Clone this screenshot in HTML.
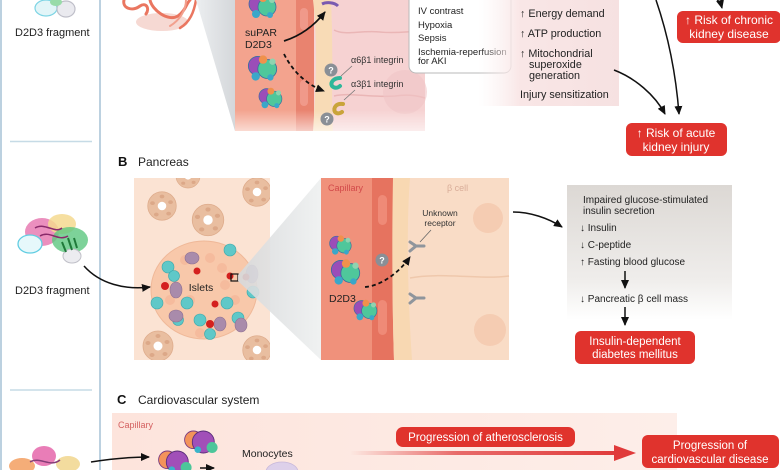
<!DOCTYPE html>
<html><head><meta charset="utf-8"><style>
html,body{margin:0;padding:0;background:#fff;}
svg{display:block;}
text{font-family:"Liberation Sans",Arial,sans-serif;}
</style></head><body>
<svg width="780" height="470" viewBox="0 0 780 470" xmlns="http://www.w3.org/2000/svg">
<defs>
  <marker id="ah" markerWidth="10" markerHeight="10" refX="8" refY="4" orient="auto" markerUnits="userSpaceOnUse">
    <path d="M0,0 L9,4 L0,8 z" fill="#111"/>
  </marker>
  <clipPath id="clipPan"><rect x="134" y="178" width="136" height="182"/></clipPath>
  <linearGradient id="funA" x1="0" y1="0" x2="1" y2="0">
    <stop offset="0" stop-color="#eceef0"/><stop offset="1" stop-color="#d4d7da"/>
  </linearGradient>
  <linearGradient id="funB" x1="0" y1="0" x2="1" y2="0">
    <stop offset="0" stop-color="#d6d8da"/><stop offset="1" stop-color="#eef0f0"/>
  </linearGradient>
  <linearGradient id="pinkA" x1="0" y1="0" x2="1" y2="0">
    <stop offset="0" stop-color="#fbf1f1" stop-opacity="0"/><stop offset="0.3" stop-color="#f9e6e6"/><stop offset="1" stop-color="#f6e1e1"/>
  </linearGradient>
  <linearGradient id="greyB" x1="0" y1="0" x2="0" y2="1">
    <stop offset="0" stop-color="#dcd8d4"/><stop offset="0.7" stop-color="#efedeb"/><stop offset="1" stop-color="#ffffff"/>
  </linearGradient>
  <linearGradient id="bandC" x1="0" y1="0" x2="1" y2="0">
    <stop offset="0" stop-color="#fde4dc"/><stop offset="1" stop-color="#fdeee9"/>
  </linearGradient>
  <linearGradient id="redArr" x1="0" y1="0" x2="1" y2="0">
    <stop offset="0" stop-color="#e04444" stop-opacity="0"/><stop offset="0.4" stop-color="#e24a4a" stop-opacity="0.8"/><stop offset="1" stop-color="#e03a3a"/>
  </linearGradient>
  <linearGradient id="fadeBot" x1="0" y1="0" x2="0" y2="1">
    <stop offset="0" stop-color="#fff" stop-opacity="0"/><stop offset="1" stop-color="#fff" stop-opacity="0.6"/>
  </linearGradient>
  <g id="prot">
    <circle cx="-4" cy="-2" r="9" fill="#9b4db8" stroke="#3b6fa0" stroke-width="0.8"/>
    <circle cx="5" cy="1" r="9" fill="#4fc79b" stroke="#3b6fa0" stroke-width="0.8"/>
    <circle cx="1" cy="-8" r="4" fill="#f0914c"/>
    <circle cx="-6" cy="8" r="4" fill="#3aa7c9"/>
    <circle cx="8" cy="9" r="3" fill="#3aa7c9"/>
    <circle cx="10" cy="-6" r="3" fill="#8fd3b0"/>
  </g>
  <g id="protC">
    <circle cx="-6" cy="-2" r="8" fill="#f3935a" stroke="#7a3a80" stroke-width="0.8"/>
    <circle cx="3" cy="0" r="10" fill="#a14fb8" stroke="#5a2e7a" stroke-width="0.8"/>
    <circle cx="11" cy="5" r="5" fill="#4cc69a"/>
    <circle cx="-2" cy="7" r="3" fill="#3ab4c9"/>
  </g>
  <g id="ros">
    <circle r="15" fill="#e9bea0" stroke="#deac8c" stroke-width="0.8"/>
    <g fill="#dca888">
      <ellipse cx="0" cy="-10" rx="2.5" ry="2"/><ellipse cx="9" cy="-4" rx="2.5" ry="2"/>
      <ellipse cx="7" cy="8" rx="2.5" ry="2"/><ellipse cx="-6" cy="9" rx="2.5" ry="2"/>
      <ellipse cx="-10" cy="-3" rx="2.5" ry="2"/>
    </g>
    <circle r="4.5" fill="#fff"/>
  </g>
</defs>

<!-- left column -->
<line x1="1" y1="0" x2="1" y2="470" stroke="#a6c2d6" stroke-width="1.5"/>
<line x1="100" y1="0" x2="100" y2="470" stroke="#a6c2d6" stroke-width="1.5"/>
<line x1="10" y1="141.5" x2="92" y2="141.5" stroke="#c6dbe6" stroke-width="1.5"/>
<line x1="10" y1="390" x2="92" y2="390" stroke="#c6dbe6" stroke-width="1.5"/>

<!-- top-left protein (cropped) -->
<g opacity="0.9">
  <ellipse cx="46" cy="8" rx="11" ry="8" fill="#dff4f8" stroke="#6fd0e2" stroke-width="1.2"/>
  <ellipse cx="66" cy="9" rx="9" ry="8" fill="#e8e8ee" stroke="#b9b9c4" stroke-width="1.2"/>
  <ellipse cx="56" cy="2" rx="6" ry="4" fill="#8fd8a0"/>
</g>
<text x="15" y="36" font-size="11" fill="#222">D2D3 fragment</text>

<!-- kidney tubules (cropped) -->
<g fill="none" stroke-linecap="round">
  <ellipse cx="162" cy="22" rx="26" ry="9" fill="#f4cfc8" stroke="none" opacity="0.8"/>
  <path d="M124,0 C122,8 132,12 140,6 C146,2 150,8 146,14" stroke="#ea7660" stroke-width="3"/>
  <path d="M150,0 C152,10 168,22 178,16 C186,10 186,4 190,0" stroke="#ea7660" stroke-width="3"/>
  <path d="M180,28 C190,22 194,12 196,0" stroke="#ea7660" stroke-width="2.5"/>
  <path d="M170,26 C180,20 186,10 186,0" stroke="#f2a08e" stroke-width="2"/>
</g>

<!-- funnel A -->
<polygon points="196,0 235,0 235,131" fill="url(#funA)"/>

<!-- panel A tissue -->
<rect x="235" y="0" width="190" height="131" fill="#f7d5d5"/>
<rect x="235" y="0" width="64" height="131" fill="#f3a38e"/>
<path d="M296,0 L314,0 L314,131 L296,131 Z" fill="#e9836f"/>
<rect x="300" y="8" width="8" height="22" rx="4" fill="#f0998a"/>
<rect x="300" y="80" width="8" height="26" rx="4" fill="#f0998a"/>
<path d="M313,0 C318,40 316,90 313,131 L333,131 C331,100 334,60 331,0 Z" fill="#f8dbb6"/>
<path d="M333,0 L425,0 L425,131 L333,131 C331,100 334,60 331,0 Z" fill="#f6d2d2"/>
<g fill="none" stroke="#eab6b6" stroke-width="1.5">
  <path d="M334,30 C345,36 360,30 380,32 C400,34 415,30 425,32"/>
  <path d="M334,96 C350,92 370,98 395,96 C410,94 418,96 425,98"/>
</g>
<circle cx="405" cy="92" r="22" fill="#f0c4c6" opacity="0.6"/>
<rect x="235" y="110" width="190" height="21" fill="url(#fadeBot)"/>

<!-- proteins A -->
<use href="#prot" transform="translate(262,6)"/>
<use href="#prot" transform="translate(262,68) scale(1.05)"/>
<use href="#prot" transform="translate(270,98) scale(0.85)"/>
<path d="M322,4 C326,2 334,2 338,6" stroke="#7a5ab0" stroke-width="3" fill="none"/>
<text x="245" y="36" font-size="10.5" fill="#222">suPAR</text>
<text x="245" y="48" font-size="10.5" fill="#222">D2D3</text>
<path d="M284,41 C300,36 314,26 325,12" stroke="#111" stroke-width="1.8" fill="none" marker-end="url(#ah)"/>
<path d="M284,54 C292,70 305,84 324,91" stroke="#111" stroke-width="1.8" stroke-dasharray="4,3" fill="none" marker-end="url(#ah)"/>
<circle cx="331" cy="70" r="6.5" fill="#8a8f96"/>
<text x="331" y="73.5" font-size="9" font-weight="bold" fill="#fff" text-anchor="middle">?</text>
<circle cx="327" cy="119" r="6.5" fill="#8a8f96"/>
<text x="327" y="122.5" font-size="9" font-weight="bold" fill="#fff" text-anchor="middle">?</text>
<path d="M340,78 C334,78 330,82 332,86 C336,90 340,86 340,86" stroke="#2fb79a" stroke-width="4" fill="none" stroke-linecap="round"/>
<path d="M343,104 C336,103 333,108 335,112 C338,115 342,112 342,112" stroke="#c9a43a" stroke-width="4" fill="none" stroke-linecap="round"/>
<line x1="341" y1="76" x2="352" y2="66" stroke="#777" stroke-width="0.8"/>
<line x1="344" y1="100" x2="355" y2="90" stroke="#777" stroke-width="0.8"/>
<text x="351" y="63" font-size="9" fill="#333">α6β1 integrin</text>
<text x="351" y="87" font-size="9" fill="#333">α3β1 integrin</text>

<!-- AKI causes box -->
<rect x="409" y="-10" width="102" height="83" rx="7" fill="#fff" stroke="#b9b9b9" stroke-width="1"/>
<g font-size="9.5" fill="#222">
  <text x="418" y="14">IV contrast</text>
  <text x="418" y="28">Hypoxia</text>
  <text x="418" y="41">Sepsis</text>
  <text x="418" y="55">Ischemia-reperfusion</text>
  <text x="418" y="64">for AKI</text>
</g>

<!-- pink metabolic box -->
<rect x="478" y="0" width="141" height="106" fill="url(#pinkA)"/>
<g font-size="10.8" fill="#222">
  <text x="520" y="17">↑ Energy demand</text>
  <text x="520" y="37">↑ ATP production</text>
  <text x="520" y="57">↑ Mitochondrial</text>
  <text x="529" y="68">superoxide</text>
  <text x="529" y="79">generation</text>
  <text x="520" y="98">Injury sensitization</text>
</g>

<!-- arrows A right -->
<path d="M614,70 C635,78 655,95 665,114" stroke="#111" stroke-width="1.5" fill="none" marker-end="url(#ah)"/>
<path d="M656,0 C668,35 676,75 679,114" stroke="#111" stroke-width="1.5" fill="none" marker-end="url(#ah)"/>
<path d="M716,-2 C719,2 721,4 722,8" stroke="#111" stroke-width="1.5" fill="none" marker-end="url(#ah)"/>

<!-- red boxes A -->
<rect x="677" y="11" width="104" height="32" rx="6" fill="#e0332d"/>
<text x="729" y="24" font-size="12" fill="#fff" text-anchor="middle">↑ Risk of chronic</text>
<text x="729" y="38" font-size="12" fill="#fff" text-anchor="middle">kidney disease</text>
<rect x="626" y="123" width="101" height="33" rx="6" fill="#e0332d"/>
<text x="676" y="137" font-size="12" fill="#fff" text-anchor="middle">↑ Risk of acute</text>
<text x="676" y="151" font-size="12" fill="#fff" text-anchor="middle">kidney injury</text>

<!-- ============ PANEL B ============ -->
<text x="118" y="166" font-size="13" font-weight="bold" fill="#111">B</text>
<text x="138" y="166" font-size="12" fill="#222">Pancreas</text>

<!-- left protein B -->
<g>
  <ellipse cx="42" cy="232" rx="17" ry="14" fill="#e46aa8" opacity="0.75"/>
  <ellipse cx="62" cy="224" rx="14" ry="10" fill="#f4d98f" opacity="0.85"/>
  <ellipse cx="70" cy="240" rx="18" ry="13" fill="#5dc77f" opacity="0.8"/>
  <ellipse cx="30" cy="244" rx="12" ry="9" fill="#e6f8fb" stroke="#62cde2" stroke-width="1.3"/>
  <ellipse cx="72" cy="256" rx="9" ry="7" fill="#ececf0" stroke="#c0c0c8" stroke-width="1"/>
  <path d="M35,228 C45,222 55,234 62,228 M40,236 C50,230 58,242 68,236" stroke="#8a2a6a" stroke-width="1.5" fill="none"/>
  <path d="M62,242 L66,252 M68,238 L72,250 M74,238 L77,248" stroke="#1f7a3a" stroke-width="2"/>
</g>
<text x="15" y="294" font-size="11" fill="#222">D2D3 fragment</text>

<!-- pancreas tissue -->
<rect x="134" y="178" width="136" height="182" fill="#fbe3d3"/>
<g clip-path="url(#clipPan)">
  <use href="#ros" transform="translate(162,206) scale(0.95)"/>
  <use href="#ros" transform="translate(208,220) scale(1.05)"/>
  <use href="#ros" transform="translate(257,192) scale(0.95)"/>
  <use href="#ros" transform="translate(188,176) scale(0.8)"/>
  <use href="#ros" transform="translate(158,346)"/>
  <use href="#ros" transform="translate(257,350) scale(0.95)"/>
</g>
<ellipse cx="204" cy="290" rx="53" ry="49" fill="#f8c8aa" stroke="#efb898" stroke-width="1"/>
<g fill="#f5b698" opacity="0.7">
  <circle cx="185" cy="260" r="5"/><circle cx="210" cy="258" r="5"/><circle cx="222" cy="268" r="5"/>
  <circle cx="190" cy="300" r="5"/><circle cx="235" cy="300" r="5"/><circle cx="170" cy="300" r="5"/>
  <circle cx="200" cy="333" r="5"/><circle cx="225" cy="285" r="5"/>
</g>
<g fill="#5fc8c8" stroke="#3aa8aa" stroke-width="0.6">
  <circle cx="168" cy="267" r="6"/><circle cx="174" cy="276" r="5.5"/><circle cx="230" cy="250" r="6"/>
  <circle cx="157" cy="303" r="6"/><circle cx="187" cy="303" r="6"/><circle cx="227" cy="303" r="6"/>
  <circle cx="200" cy="320" r="6"/><circle cx="238" cy="318" r="6"/><circle cx="178" cy="320" r="5.5"/>
  <circle cx="210" cy="334" r="5.5"/><circle cx="253" cy="292" r="6"/>
</g>
<g fill="#a98bab" stroke="#8f7092" stroke-width="0.6">
  <ellipse cx="192" cy="258" rx="7" ry="6"/><ellipse cx="176" cy="290" rx="6" ry="8"/>
  <ellipse cx="176" cy="316" rx="7" ry="6"/><ellipse cx="220" cy="324" rx="6" ry="7"/>
  <ellipse cx="241" cy="325" rx="6" ry="7"/><ellipse cx="252" cy="274" rx="6" ry="9"/>
</g>
<g fill="#d4201e">
  <circle cx="197" cy="271" r="3.5"/><circle cx="230" cy="276" r="3.5"/><circle cx="246" cy="277" r="3.5"/>
  <circle cx="165" cy="286" r="4"/><circle cx="215" cy="304" r="3.5"/><circle cx="210" cy="324" r="4"/>
</g>
<text x="201" y="291" font-size="10.5" fill="#222" text-anchor="middle">Islets</text>
<rect x="231" y="274" width="7" height="7" fill="none" stroke="#111" stroke-width="1.2"/>

<!-- arrow from protein to islet -->
<path d="M84,266 C100,284 125,290 150,287" stroke="#111" stroke-width="1.5" fill="none" marker-end="url(#ah)"/>

<!-- funnel B -->
<polygon points="238,275 321,178 321,360 238,281" fill="url(#funB)" opacity="0.9"/>

<!-- capillary panel B -->
<rect x="321" y="178" width="188" height="182" fill="#f9dcc6"/>
<rect x="321" y="178" width="60" height="182" fill="#f0917b"/>
<path d="M372,178 L394,178 C392,230 392,300 394,360 L372,360 Z" fill="#e6735f"/>
<rect x="378" y="195" width="9" height="30" rx="4.5" fill="#ef8a77"/>
<rect x="378" y="300" width="9" height="35" rx="4.5" fill="#ef8a77"/>
<path d="M393,178 L410,178 C406,230 408,300 412,360 L394,360 C392,300 392,230 393,178 Z" fill="#f8d8b2"/>
<path d="M410,278 C440,272 480,280 509,276" stroke="#efc8ac" stroke-width="1.5" fill="none"/>
<circle cx="488" cy="218" r="15" fill="#f4c5a9" opacity="0.7"/>
<circle cx="490" cy="330" r="16" fill="#f4c5a9" opacity="0.7"/>
<text x="328" y="191" font-size="9" fill="#d24a4a">Capillary</text>
<text x="447" y="191" font-size="9" fill="#d9ad99">β cell</text>
<text x="440" y="216" font-size="8.5" fill="#333" text-anchor="middle">Unknown</text>
<text x="440" y="226" font-size="8.5" fill="#333" text-anchor="middle">receptor</text>
<line x1="420" y1="242" x2="431" y2="230" stroke="#666" stroke-width="0.8"/>
<g stroke="#8f959c" stroke-width="3" fill="none" stroke-linecap="round">
  <path d="M410,242 L416,246 L410,251 M416,246 L424,246"/>
  <path d="M410,294 L416,298 L410,303 M416,298 L424,298"/>
</g>
<use href="#prot" transform="translate(340,245) scale(0.8)"/>
<use href="#prot" transform="translate(345,272) scale(1.05)"/>
<use href="#prot" transform="translate(365,310) scale(0.85)"/>
<text x="329" y="302" font-size="10.5" fill="#222">D2D3</text>
<circle cx="382" cy="260" r="6.5" fill="#8a8f96"/>
<text x="382" y="263.5" font-size="9" font-weight="bold" fill="#fff" text-anchor="middle">?</text>
<path d="M365,287 C380,286 398,274 410,257" stroke="#111" stroke-width="1.8" stroke-dasharray="4,3" fill="none" marker-end="url(#ah)"/>

<path d="M513,212 C530,212 548,218 562,227" stroke="#111" stroke-width="1.5" fill="none" marker-end="url(#ah)"/>

<!-- grey box B -->
<rect x="567" y="185" width="165" height="135" fill="url(#greyB)"/>
<g font-size="10" fill="#222">
  <text x="583" y="203">Impaired glucose-stimulated</text>
  <text x="583" y="214">insulin secretion</text>
  <text x="580" y="231">↓ Insulin</text>
  <text x="580" y="248">↓ C-peptide</text>
  <text x="580" y="265">↑ Fasting blood glucose</text>
  <text x="580" y="302">↓ Pancreatic β cell mass</text>
</g>
<line x1="625" y1="271" x2="625" y2="288" stroke="#111" stroke-width="1.5" marker-end="url(#ah)"/>
<line x1="625" y1="307" x2="625" y2="325" stroke="#111" stroke-width="1.5" marker-end="url(#ah)"/>
<rect x="575" y="331" width="120" height="33" rx="6" fill="#e0332d"/>
<text x="635" y="345" font-size="11.5" fill="#fff" text-anchor="middle">Insulin-dependent</text>
<text x="635" y="358" font-size="11.5" fill="#fff" text-anchor="middle">diabetes mellitus</text>

<!-- ============ PANEL C ============ -->
<text x="117" y="404" font-size="13" font-weight="bold" fill="#111">C</text>
<text x="138" y="404" font-size="12" fill="#222">Cardiovascular system</text>
<rect x="112" y="413" width="565" height="57" fill="url(#bandC)"/>
<text x="118" y="428" font-size="9" fill="#d46060">Capillary</text>

<!-- left protein C -->
<g opacity="0.9">
  <ellipse cx="22" cy="466" rx="13" ry="8" fill="#f4a56a"/>
  <ellipse cx="44" cy="456" rx="12" ry="10" fill="#e76fb0"/>
  <ellipse cx="68" cy="464" rx="12" ry="8" fill="#f2d994"/>
  <path d="M30,462 C40,456 50,468 60,460" stroke="#7a2a6a" stroke-width="1.5" fill="none"/>
</g>
<path d="M91,462 C110,459 130,457 149,457" stroke="#111" stroke-width="1.5" fill="none" marker-end="url(#ah)"/>

<use href="#protC" transform="translate(200,442) scale(1.1)"/>
<use href="#protC" transform="translate(174,462) scale(1.1)"/>
<path d="M200,468 L214,468" stroke="#111" stroke-width="1.5" marker-end="url(#ah)"/>
<text x="242" y="457" font-size="10.5" fill="#222">Monocytes</text>
<ellipse cx="282" cy="472" rx="16" ry="10" fill="#ddd0ea" stroke="#c8b8da" stroke-width="0.8"/>

<rect x="350" y="451" width="268" height="4" fill="url(#redArr)"/>
<polygon points="614,445 636,453 614,461" fill="#e03a3a"/>
<rect x="396" y="427" width="179" height="20" rx="7" fill="#e0332d"/>
<text x="485.5" y="441" font-size="11.5" fill="#fff" text-anchor="middle">Progression of atherosclerosis</text>
<rect x="642" y="435" width="137" height="33" rx="6" fill="#e0332d"/>
<text x="710" y="449" font-size="11.5" fill="#fff" text-anchor="middle">Progression of</text>
<text x="710" y="463" font-size="11.5" fill="#fff" text-anchor="middle">cardiovascular disease</text>
</svg>
</body></html>
